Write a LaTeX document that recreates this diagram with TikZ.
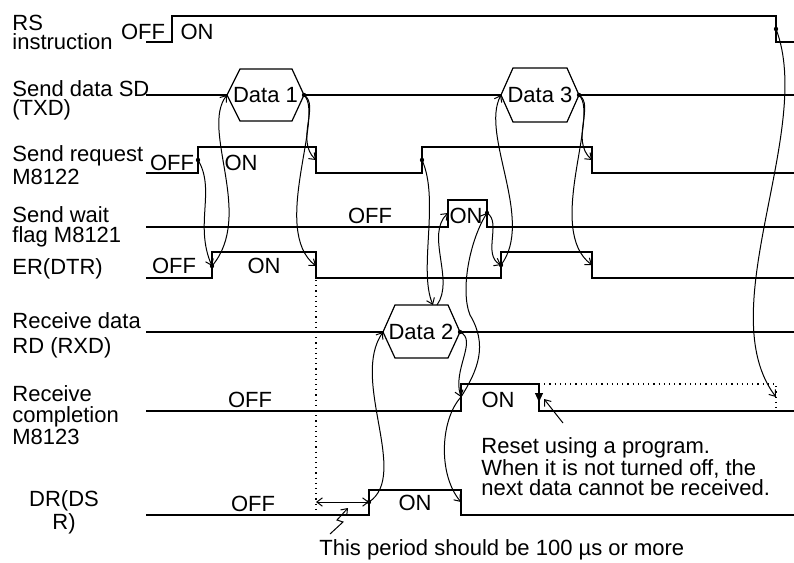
\documentclass[tikz,border=0pt]{standalone}
\usepackage{fontspec}
\setmainfont{Liberation Sans}
\usetikzlibrary{arrows.meta,calc}
\tikzset{
  wave/.style={line width=0.6pt},
  cause/.style={line width=0.5pt,-{Straight Barb[length=2.8pt,width=4.2pt]}},
  txt/.style={inner sep=0pt,font=\fontsize{11}{10}\selectfont},
  sig/.style={txt,align=left,anchor=north west},
}
\begin{document}
\begin{tikzpicture}[x=0.5pt,y=-0.5pt]
	\useasboundingbox (0,0) rectangle (794,563);
	\node[sig] (lRS) at (12,15) {RS\\[-0.5pt]instruction};
	\node[sig] (lSD) at (12,80) {Send data SD\\[-0.5pt](TXD)};
	\node[sig] (lSR) at (12,145) {Send request\\[1.5pt]M8122};
	\node[sig] (lSW) at (12,206) {Send wait\\flag M8121};
	\node[sig] (lER) at (12,258) {ER(DTR)};
	\node[sig] (lRD) at (12,312) {Receive data\\[2.5pt]RD (RXD)};
	\node[sig] (lRC) at (12,385) {Receive\\[0.75pt]completion\\[0.75pt]M8123};
	\node[sig,align=center,anchor=north] (lDR) at (64,490) {DR(DS\\[0.5pt]R)};
	\coordinate (rsOff) at (776,29);
	\coordinate (rsMark) at (776,397);
	\coordinate (d1w) at (227,95);
	\coordinate (d1e) at (304,95);
	\coordinate (d3w) at (501,95);
	\coordinate (d3e) at (579,95);
	\coordinate (sr1) at (198,160);
	\coordinate (sr1f) at (316,160);
	\coordinate (sr2) at (422,160);
	\coordinate (sr2f) at (592,160);
	\coordinate (swOn) at (448,213);
	\coordinate (swOff) at (487,213);
	\coordinate (er1) at (212,266);
	\coordinate (er1f) at (316,266);
	\coordinate (er2) at (501,265);
	\coordinate (er2f) at (592,265);
	\coordinate (d2w) at (383,332);
	\coordinate (d2t) at (433,305);
	\coordinate (d2tb) at (437,305);
	\coordinate (d2e) at (460,332);
	\coordinate (rcOn) at (461,397);
	\coordinate (rcOff) at (539,384);
	\coordinate (drOn) at (369,502);
	\coordinate (drOff) at (461,502);
	\coordinate (gap) at (316,502);
	\draw[wave] (146,42) -- (172,42) -- (172,16) -- (776,16) -- (776,42) -- (794,42);
	\draw[wave] (146,95) -- (d1w);
	\draw[wave] (d1w) -- (240,69) -- (292,69) -- (d1e) -- (292,121) -- (240,121) -- cycle;
	\draw[wave] (d1e) -- (d3w);
	\draw[wave] (d3w) -- (513,68) -- (567,68) -- (d3e) -- (567,122) -- (513,122) -- cycle;
	\draw[wave] (d3e) -- (794,95);
	\draw[wave] (146,173) -- (198,173) -- (198,147) -- (316,147) -- (316,173) -- (422,173) -- (422,147) -- (592,147) -- (592,173) -- (794,173);
	\draw[wave] (146,227) -- (448,227) -- (448,200) -- (487,200) -- (487,227) -- (794,227);
	\draw[wave] (146,278) -- (212,278) -- (212,252) -- (316,252) -- (316,278) -- (501,278) -- (501,252) -- (592,252) -- (592,278) -- (794,278);
	\draw[wave] (146,332) -- (d2w);
	\draw[wave] (d2w) -- (395,305) -- (448,305) -- (d2e) -- (448,358) -- (395,358) -- cycle;
	\draw[wave] (d2e) -- (794,332);
	\draw[wave] (146,411) -- (461,411) -- (461,384) -- (rcOff) -- (539,411) -- (794,411);
	\draw[wave] (146,515) -- (369,515) -- (369,490) -- (461,490) -- (461,515) -- (794,515);
	\draw[wave,dotted] (316,280) -- (316,515);
	\draw[wave,dotted] (rcOff) -- (776,384) -- (776,410);
	\draw[line width=0.5pt,-{Triangle[length=4.5pt,width=4pt]}] (rcOff) -- (539,402);
	\node[txt] (d1) at (265.5,95) {Data 1};
	\node[txt] (d3) at (540,95) {Data 3};
	\node[txt] (d2) at (421,332) {Data 2};
	\node[txt] (rsF) at (143,32) {OFF};
	\node[txt] (rsN) at (197,32) {ON};
	\node[txt] (srF) at (172,163) {OFF};
	\node[txt] (srN) at (241,163) {ON};
	\node[txt] (swF) at (370,216) {OFF};
	\node[txt] (swN) at (466,216) {ON};
	\node[txt] (erF) at (174,266) {OFF};
	\node[txt] (erN) at (264,266) {ON};
	\node[txt] (rcF) at (250,400) {OFF};
	\node[txt] (rcN) at (498,400) {ON};
	\node[txt] (drF) at (253,504) {OFF};
	\node[txt] (drN) at (415,503) {ON};
	\node[sig] (reset) at (481,437) {Reset using a program.\\When it is not turned off, the\\next data cannot be received.};
	\node[txt,anchor=base west] (period) at (319,555) {This period should be 100 µs or more};
	\draw[cause] (sr1) .. controls (216,190) and (194,225) .. (er1);
	\draw[cause] (er1) .. controls (255,215) and (200,130) .. (d1w);
	\draw[cause] (d1e) .. controls (320,105) and (295,140) .. (sr1f);
	\draw[cause] (d1e) .. controls (325,115) and (270,230) .. (er1f);
	\draw[cause] (sr2) .. controls (440,200) and (418,270) .. (d2t);
	\draw[cause] (d2tb) .. controls (455,280) and (425,235) .. (swOn);
	\draw[cause] (swOff) .. controls (502,222) and (482,255) .. (er2);
	\draw[cause] (er2) .. controls (535,220) and (480,135) .. (d3w);
	\draw[cause] (d3e) .. controls (595,105) and (570,140) .. (sr2f);
	\draw[cause] (d3e) .. controls (600,115) and (545,230) .. (er2f);
	\draw[cause] (d2e) .. controls (478,340) and (452,370) .. (rcOn);
	\draw[cause] (rcOn) .. controls (478,370) and (488,345) .. (470,315) .. controls (460,290) and (470,240) .. (swOff);
	\draw[cause] (rcOn) .. controls (440,420) and (438,475) .. (drOff);
	\draw[cause] (drOn) .. controls (410,475) and (350,380) .. (d2w);
	\draw[cause] (rsOff) .. controls (815,130) and (710,310) .. (rsMark);
	\draw[line width=0.5pt,{Straight Barb[length=2.8pt,width=4.2pt]}-{Straight Barb[length=2.8pt,width=4.2pt]}] (gap) -- (drOn);
	\draw[cause] (330,534) -- (343,522) -- (337,520) -- (348,508);
	\draw[cause] (563,423) -- (544,399);
	\fill (rsOff) circle (1.1pt);
	\fill (d1e) circle (1.1pt);
	\fill (d3e) circle (1.1pt);
	\fill (sr1) circle (1.1pt);
	\fill (sr2) circle (1.1pt);
	\fill (swOff) circle (1.1pt);
	\fill (er1) circle (1.1pt);
	\fill (er2) circle (1.1pt);
	\fill (d2e) circle (1.1pt);
	\fill (drOn) circle (1.1pt);
\end{tikzpicture}
\end{document}
